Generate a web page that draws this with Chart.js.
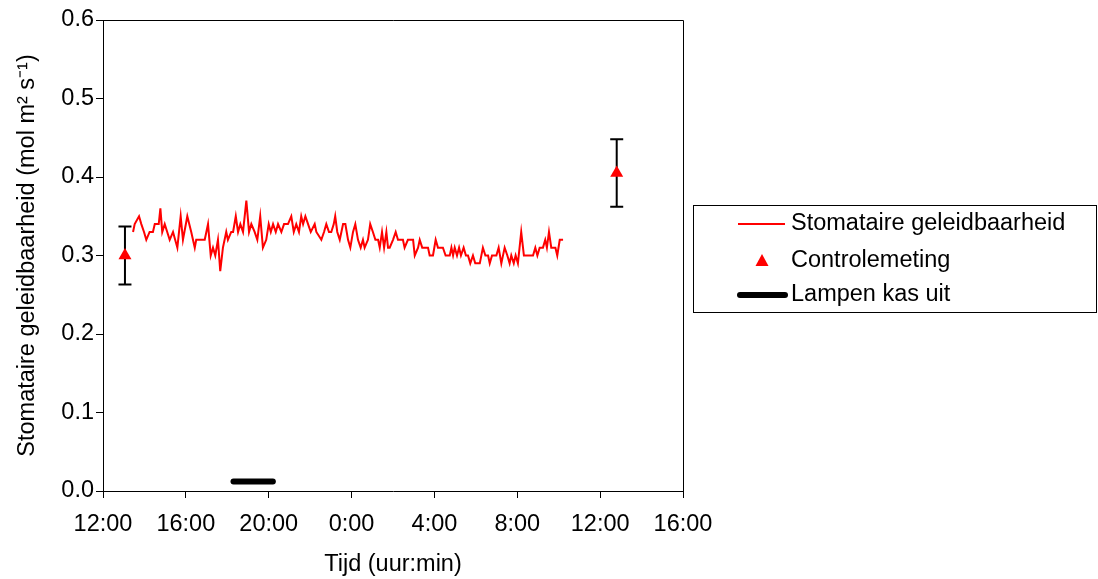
<!DOCTYPE html>
<html>
<head>
<meta charset="utf-8">
<script src="https://cdn.jsdelivr.net/npm/chart.js@4.4.0/dist/chart.umd.min.js"></script>
<style>
  html, body { margin: 0; padding: 0; background: #fff; }
</style>
</head>
<body>
<canvas id="chart" width="1098" height="579"></canvas>
<script>
// hours after 12:00 on day one
const timeHours = [
  1.45, 1.53, 1.74, 1.85, 1.98, 2.09, 2.25, 2.41, 2.50, 2.69, 2.77, 2.86, 2.98, 3.10, 3.22, 3.38,
  3.59, 3.75, 3.86, 4.07, 4.26, 4.43, 4.50, 4.91, 4.99, 5.07, 5.20, 5.31, 5.42, 5.55, 5.66, 5.79,
  5.95, 6.03, 6.19, 6.28, 6.41, 6.52, 6.63, 6.76, 6.92, 7.05, 7.16, 7.32, 7.45, 7.59, 7.72, 7.88,
  8.00, 8.10, 8.21, 8.34, 8.45, 8.61, 8.74, 8.93, 9.09, 9.21, 9.33, 9.46, 9.57, 9.66, 9.77, 9.90,
  10.03, 10.22, 10.30, 10.54, 10.67, 10.78, 10.91, 11.02, 11.14, 11.21, 11.31, 11.43, 11.59, 11.70,
  11.83, 11.94, 12.07, 12.18, 12.31, 12.44, 12.55, 12.63, 12.79, 12.90, 13.03, 13.15, 13.28, 13.36,
  13.47, 13.57, 13.68, 13.76, 13.84, 14.00, 14.13, 14.24, 14.48, 14.56, 14.72, 14.97, 15.05, 15.21,
  15.29, 15.41, 15.69, 15.77, 15.93, 16.06, 16.17, 16.41, 16.54, 16.74, 16.82, 16.90, 16.98, 17.09,
  17.19, 17.28, 17.41, 17.52, 17.62, 17.73, 17.86, 17.97, 18.19, 18.34, 18.46, 18.59, 18.67, 18.78,
  18.99, 19.10, 19.23, 19.39, 19.52, 19.63, 19.71, 19.83, 19.92, 20.03, 20.19, 20.32, 20.60, 20.76,
  20.87, 20.97, 21.08, 21.24, 21.35, 21.43, 21.53, 21.64, 21.84, 21.93, 22.05, 22.21
];
const conductance = [
  0.33, 0.34, 0.35, 0.34, 0.33, 0.32, 0.33, 0.33, 0.34, 0.34, 0.36, 0.33, 0.34, 0.33, 0.32, 0.33,
  0.31, 0.35, 0.32, 0.35, 0.33, 0.31, 0.32, 0.32, 0.33, 0.34, 0.30, 0.31, 0.30, 0.32, 0.28, 0.31,
  0.33, 0.32, 0.33, 0.33, 0.35, 0.33, 0.34, 0.33, 0.37, 0.33, 0.34, 0.33, 0.32, 0.35, 0.31, 0.32,
  0.34, 0.33, 0.34, 0.33, 0.34, 0.33, 0.34, 0.34, 0.35, 0.33, 0.34, 0.33, 0.35, 0.34, 0.35, 0.34,
  0.33, 0.34, 0.33, 0.32, 0.33, 0.34, 0.33, 0.33, 0.34, 0.35, 0.33, 0.32, 0.34, 0.34,
  0.32, 0.31, 0.33, 0.34, 0.32, 0.31, 0.32, 0.31, 0.32, 0.34, 0.33, 0.32, 0.32, 0.31,
  0.33, 0.31, 0.33, 0.31, 0.31, 0.32, 0.33, 0.32, 0.32, 0.31, 0.32, 0.32, 0.30, 0.31,
  0.32, 0.31, 0.31, 0.30, 0.30, 0.32, 0.31, 0.31, 0.30, 0.30, 0.31, 0.30, 0.31, 0.30,
  0.31, 0.30, 0.31, 0.30, 0.30, 0.29, 0.30, 0.29, 0.29, 0.31, 0.30, 0.30, 0.29, 0.30,
  0.30, 0.31, 0.29, 0.31, 0.30, 0.29, 0.30, 0.29, 0.30, 0.29, 0.33, 0.30, 0.30, 0.30,
  0.31, 0.30, 0.31, 0.31, 0.32, 0.31, 0.33, 0.31, 0.31, 0.30, 0.32, 0.32
];
const controlHours = [1.06, 24.8];
const controlValues = [0.30, 0.405];
const controlErrors = [0.037, 0.043];
const lampHours = [6.3, 8.2];
const lampLevel = [0.012, 0.012];

const xTickLabels = ["12:00", "16:00", "20:00", "0:00", "4:00", "8:00", "12:00", "16:00"];
const yTickLabels = ["0.0", "0.1", "0.2", "0.3", "0.4", "0.5", "0.6"];
const legendLabels = ["Stomataire geleidbaarheid", "Controlemeting", "Lampen kas uit"];

const FONT = "'Liberation Sans', Arial, sans-serif";
Chart.defaults.font.family = FONT;
Chart.defaults.font.size = 23.5;
Chart.defaults.color = "#000";

// box around plot area (top and right sides)
const framePlugin = {
    id: "frame",
    afterDraw(chart) {
        const { ctx, chartArea: a } = chart;
        ctx.save();
        ctx.strokeStyle = "#000";
        ctx.lineWidth = 1;
        ctx.beginPath();
        ctx.moveTo(a.left, a.top + 0.5);
        ctx.lineTo(a.right + 0.5, a.top + 0.5);
        ctx.lineTo(a.right + 0.5, a.bottom);
        ctx.stroke();
        ctx.restore();
    }
};

// error bars for the control measurements
const errorBarPlugin = {
    id: "errorBars",
    beforeDatasetsDraw(chart) {
        const { ctx, scales: { x, y } } = chart;
        ctx.save();
        ctx.strokeStyle = "#000";
        ctx.lineWidth = 2;
        controlHours.forEach((h, i) => {
            const px = x.getPixelForValue(h);
            const top = y.getPixelForValue(controlValues[i] + controlErrors[i]);
            const bot = y.getPixelForValue(controlValues[i] - controlErrors[i]);
            ctx.beginPath();
            ctx.moveTo(px, top); ctx.lineTo(px, bot);
            ctx.moveTo(px - 6.5, top); ctx.lineTo(px + 6.5, top);
            ctx.moveTo(px - 6.5, bot); ctx.lineTo(px + 6.5, bot);
            ctx.stroke();
        });
        ctx.restore();
    }
};

// legend box on the right
const legendPlugin = {
    id: "boxLegend",
    afterDraw(chart) {
        const ctx = chart.ctx;
        ctx.save();
        ctx.strokeStyle = "#000";
        ctx.lineWidth = 1;
        ctx.strokeRect(693.5, 205.5, 403, 107);
        ctx.font = "23.5px " + FONT;
        ctx.fillStyle = "#000";
        ctx.textBaseline = "middle";
        const rows = [224, 261, 295];
        legendLabels.forEach((t, i) => ctx.fillText(t, 791, rows[i]));

        ctx.strokeStyle = "#ff0000";
        ctx.lineWidth = 2;
        ctx.beginPath(); ctx.moveTo(738, rows[0]); ctx.lineTo(785, rows[0]); ctx.stroke();

        ctx.fillStyle = "#ff0000";
        ctx.beginPath();
        ctx.moveTo(762, rows[1] - 7); ctx.lineTo(768.5, rows[1] + 5); ctx.lineTo(755.5, rows[1] + 5);
        ctx.closePath(); ctx.fill();

        ctx.strokeStyle = "#000";
        ctx.lineWidth = 6;
        ctx.lineCap = "round";
        ctx.beginPath(); ctx.moveTo(740, rows[2]); ctx.lineTo(785, rows[2]); ctx.stroke();
        ctx.restore();
    }
};

new Chart(document.getElementById("chart"), {
    type: "line",
    data: {
        datasets: [
            {
                label: legendLabels[0],
                data: timeHours.map((h, i) => ({ x: h, y: conductance[i] })),
                borderColor: "#ff0000",
                borderWidth: 2,
                pointRadius: 0,
                tension: 0
            },
            {
                label: legendLabels[1],
                data: controlHours.map((h, i) => ({ x: h, y: controlValues[i] })),
                showLine: false,
                pointStyle: "triangle",
                pointRadius: 7.5,
                backgroundColor: "#ff0000",
                borderColor: "#ff0000",
                borderWidth: 0
            },
            {
                label: legendLabels[2],
                data: lampHours.map((h, i) => ({ x: h, y: lampLevel[i] })),
                borderColor: "#000",
                borderWidth: 6,
                borderCapStyle: "round",
                pointRadius: 0
            }
        ]
    },
    options: {
        responsive: false,
        animation: false,
        devicePixelRatio: 1,
        layout: { padding: { left: 0, top: 20, right: 415, bottom: 0 } },
        plugins: {
            legend: { display: false },
            tooltip: { enabled: false }
        },
        scales: {
            x: {
                type: "linear",
                min: 0,
                max: 28,
                afterFit: s => { s.height = 88; },
                ticks: {
                    stepSize: 4,
                    autoSkip: false,
                    maxRotation: 0,
                    padding: 12,
                    callback: v => xTickLabels[Math.round(v / 4)]
                },
                grid: { drawOnChartArea: false, color: "#000", tickLength: 7 },
                border: { color: "#000", width: 1 },
                title: { display: true, text: "Tijd (uur:min)", padding: { top: 4, bottom: 0 } }
            },
            y: {
                min: 0,
                max: 0.6,
                afterFit: s => { s.width = 103; },
                ticks: {
                    stepSize: 0.1,
                    padding: 2,
                    callback: v => yTickLabels[Math.round(v * 10)]
                },
                grid: { drawOnChartArea: false, color: "#000", tickLength: 7 },
                border: { color: "#000", width: 1 },
                title: {
                    display: true,
                    text: "Stomataire geleidbaarheid (mol m² s⁻¹)",
                    padding: { top: 13, bottom: 4 }
                }
            }
        }
    },
    plugins: [framePlugin, errorBarPlugin, legendPlugin]
});
</script>
</body>
</html>
